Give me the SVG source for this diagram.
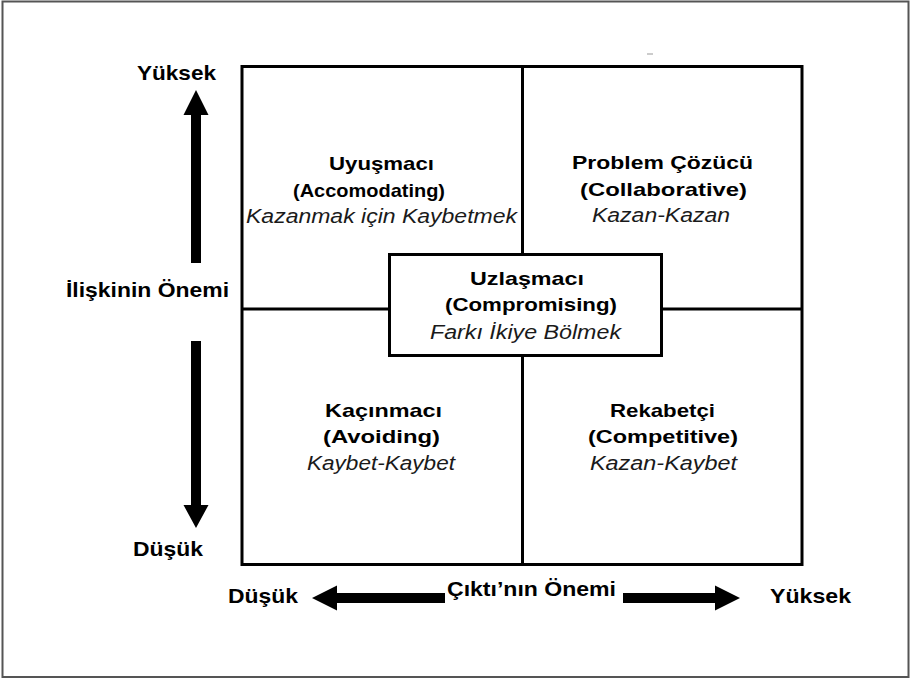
<svg xmlns="http://www.w3.org/2000/svg" width="911" height="679" viewBox="0 0 911 679">
<style>
.t{font-family:"Liberation Sans",Arial,sans-serif;font-weight:bold;font-size:19px;fill:#000}
.i{font-family:"Liberation Sans",Arial,sans-serif;font-style:italic;font-size:20px;fill:#1a1a1a}
.ax{font-family:"Liberation Sans",Arial,sans-serif;font-weight:bold;font-size:21px;fill:#000}
.ln{stroke:#000;stroke-width:3;fill:none}
.ar{fill:#000;stroke:none}
</style>
<rect x="2.5" y="1.5" width="906" height="675.5" fill="#fff" stroke="#555" stroke-width="2"/>
<line x1="647" y1="54" x2="653" y2="54" stroke="#999" stroke-width="1"/>
<g id="grid">
<rect class="ln" x="242" y="66.5" width="560" height="498"/>
<line class="ln" x1="522.5" y1="66.5" x2="522.5" y2="564.5"/>
<line class="ln" x1="242" y1="309" x2="802" y2="309"/>
</g>
<g id="accommodating">
<text class="t" x="329" y="170" textLength="105" lengthAdjust="spacingAndGlyphs">Uyuşmacı</text>
<text class="t" x="293" y="197" textLength="152" lengthAdjust="spacingAndGlyphs">(Accomodating)</text>
<text class="i" x="246" y="223" textLength="271" lengthAdjust="spacingAndGlyphs">Kazanmak için Kaybetmek</text>
</g>
<g id="collaborative">
<text class="t" x="572" y="169" textLength="181" lengthAdjust="spacingAndGlyphs">Problem Çözücü</text>
<text class="t" x="580" y="196" textLength="167" lengthAdjust="spacingAndGlyphs">(Collaborative)</text>
<text class="i" x="592" y="222" textLength="138" lengthAdjust="spacingAndGlyphs">Kazan-Kazan</text>
</g>
<g id="avoiding">
<text class="t" x="325" y="417" textLength="117" lengthAdjust="spacingAndGlyphs">Kaçınmacı</text>
<text class="t" x="323" y="443" textLength="117" lengthAdjust="spacingAndGlyphs">(Avoiding)</text>
<text class="i" x="307" y="470" textLength="148" lengthAdjust="spacingAndGlyphs">Kaybet-Kaybet</text>
</g>
<g id="competitive">
<text class="t" x="610" y="417" textLength="105" lengthAdjust="spacingAndGlyphs">Rekabetçi</text>
<text class="t" x="588" y="443" textLength="150" lengthAdjust="spacingAndGlyphs">(Competitive)</text>
<text class="i" x="590" y="470" textLength="147" lengthAdjust="spacingAndGlyphs">Kazan-Kaybet</text>
</g>
<g id="compromising">
<rect x="389.5" y="254.5" width="272" height="101" fill="#fff" stroke="#000" stroke-width="3"/>
<text class="t" x="470" y="285" textLength="114" lengthAdjust="spacingAndGlyphs">Uzlaşmacı</text>
<text class="t" x="445" y="311" textLength="172" lengthAdjust="spacingAndGlyphs">(Compromising)</text>
<text class="i" x="430" y="339" textLength="191" lengthAdjust="spacingAndGlyphs">Farkı İkiye Bölmek</text>
</g>
<g id="axis-labels">
<text class="ax" x="137" y="80" textLength="79" lengthAdjust="spacingAndGlyphs">Yüksek</text>
<text class="ax" x="66" y="297" textLength="163" lengthAdjust="spacingAndGlyphs">İlişkinin Önemi</text>
<text class="ax" x="133" y="556" textLength="70" lengthAdjust="spacingAndGlyphs">Düşük</text>
<text class="ax" x="228" y="603" textLength="70" lengthAdjust="spacingAndGlyphs">Düşük</text>
<text class="ax" x="447" y="596" textLength="169" lengthAdjust="spacingAndGlyphs">Çıktı’nın Önemi</text>
<text class="ax" x="770" y="603" textLength="81" lengthAdjust="spacingAndGlyphs">Yüksek</text>
</g>
<g id="connectors">
<polygon class="ar" points="196,90 208.5,115 201,115 201,263 191,263 191,115 183.5,115"/>
<polygon class="ar" points="196,528 208.5,505 201,505 201,341 191,341 191,505 183.5,505"/>
<polygon class="ar" points="312,598 337,585.5 337,593 445,593 445,603 337,603 337,610.5"/>
<polygon class="ar" points="740,598 715,585.5 715,593 623,593 623,603 715,603 715,610.5"/>
</g>
</svg>
